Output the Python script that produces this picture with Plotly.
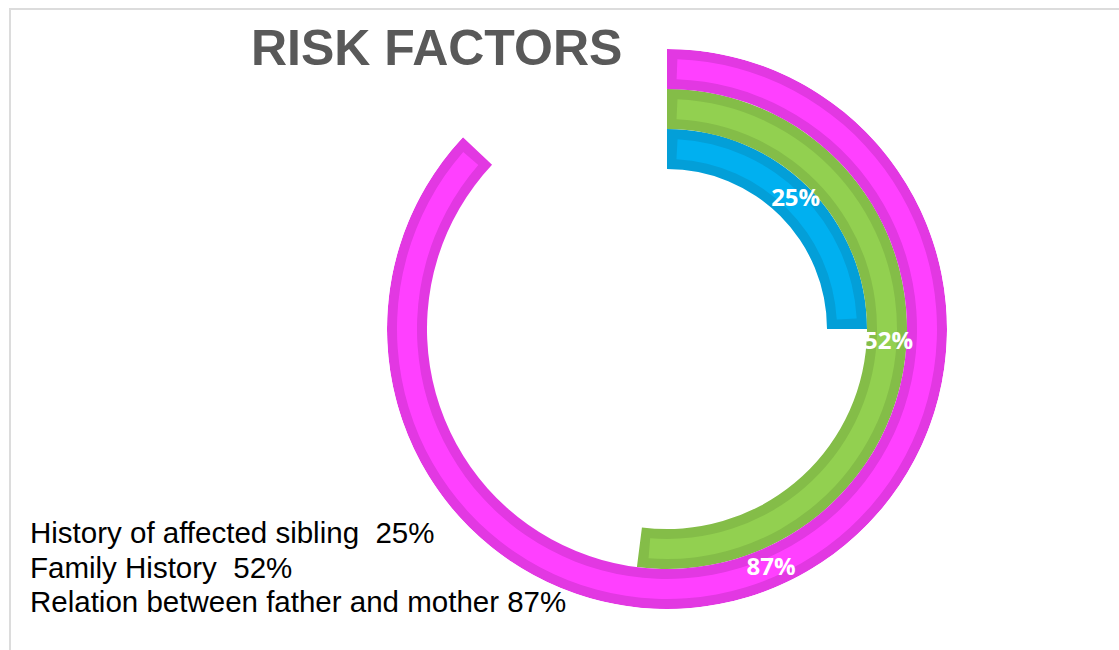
import math
import plotly.graph_objects as go

# Risk factors and their shares (percent)
categories = ["History of affected sibling", "Family History", "Relation between father and mother"]
values = [25, 52, 87]
legend_gaps = ["\u00a0\u00a0", "\u00a0\u00a0", " "]

# Ring styling: inner radius of each ring, ring thickness, border thickness (radial units)
ring_inner = [160, 200, 240]
ring_thickness = 40
border = 10
fill_colors = ["#00B0F0", "#92D050", "#FF40FF"]
edge_colors = ["#039FD8", "#84BD48", "#E238E2"]

W, H = 1119, 650
cx, cy, R_outer = 667, 329, 280

fig = go.Figure()

for cat, v, r0, fc, ec in zip(categories, values, ring_inner, fill_colors, edge_colors):
    span = v * 3.6
    mid = span / 2
    # darker outer band
    fig.add_trace(go.Barpolar(
        r=[ring_thickness], base=[r0], theta=[mid], width=[span],
        marker=dict(color=ec, line=dict(width=0)), name=cat, hoverinfo="skip",
    ))
    # lighter inner band, inset by the border on every side
    inset = math.degrees(border / (r0 + ring_thickness / 2))
    fig.add_trace(go.Barpolar(
        r=[ring_thickness - 2 * border], base=[r0 + border], theta=[mid],
        width=[span - 2 * inset],
        marker=dict(color=fc, line=dict(width=0)), name=cat, hoverinfo="skip",
    ))

# value labels at the middle of each arc
fig.add_trace(go.Scatterpolar(
    r=[r0 + ring_thickness / 2 + 2 for r0 in ring_inner],
    theta=[v * 3.6 / 2 for v in values],
    text=[f"{v}%" for v in values],
    mode="text",
    textfont=dict(family="Open Sans", size=24, color="white", weight="bold"),
    hoverinfo="skip",
))

# text listing of the factors
legend_y = [532, 567, 601]
annotations = []
for cat, v, gap, yy in zip(categories, values, legend_gaps, legend_y):
    annotations.append(dict(
        text=f"{cat}{gap}{v}%", x=28 / W, y=1 - yy / H, xref="paper", yref="paper",
        xanchor="left", yanchor="middle", showarrow=False,
        font=dict(family="Liberation Sans, Arial", size=29.5, color="black"),
    ))
annotations.append(dict(
    text="<b>RISK FACTORS</b>", x=436 / W, y=1 - 48 / H, xref="paper", yref="paper",
    xanchor="center", yanchor="middle", showarrow=False,
    font=dict(family="Liberation Sans, Arial", size=50, color="#595959"),
))

fig.update_layout(
    width=W, height=H, margin=dict(l=0, r=0, t=0, b=0, pad=0),
    paper_bgcolor="white", showlegend=False,
    polar=dict(
        domain=dict(x=[(cx - R_outer) / W, (cx + R_outer) / W],
                    y=[1 - (cy + R_outer) / H, 1 - (cy - R_outer) / H]),
        bgcolor="white", bargap=0, hole=0,
        radialaxis=dict(range=[0, R_outer], visible=False),
        angularaxis=dict(rotation=90, direction="clockwise", visible=False),
    ),
    annotations=annotations,
    shapes=[
        dict(type="line", xref="paper", yref="paper", x0=9 / W, x1=1, y0=1 - 9 / H, y1=1 - 9 / H,
             line=dict(color="#DCDCDC", width=2)),
        dict(type="line", xref="paper", yref="paper", x0=10 / W, x1=10 / W, y0=0, y1=1 - 9 / H,
             line=dict(color="#DCDCDC", width=2)),
    ],
)

fig.write_html("out.html")
